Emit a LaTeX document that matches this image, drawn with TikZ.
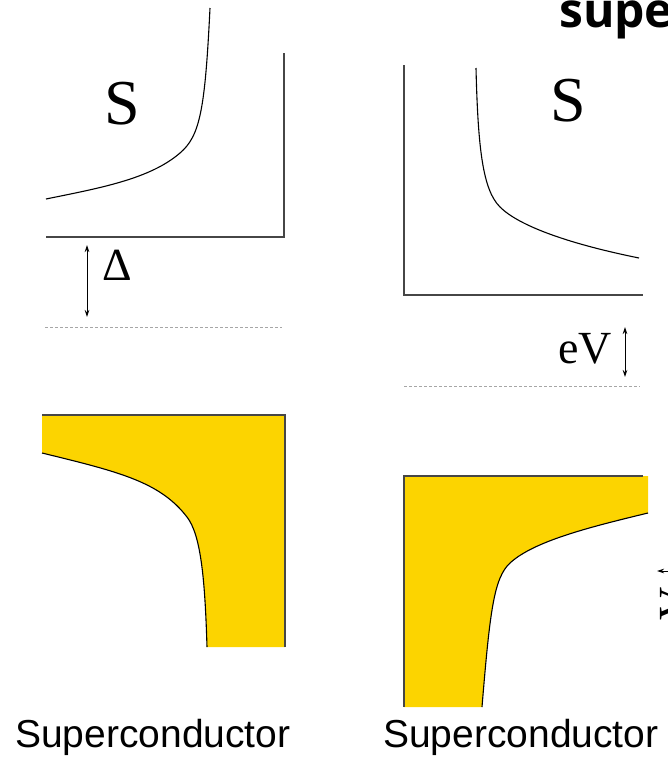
\documentclass[tikz,border=0pt]{standalone}
\usepackage{fontspec}
\setmainfont{Liberation Serif}
\newfontfamily\labelfont{Liberation Sans}
\newfontfamily\titlefont{Open Sans}
\usetikzlibrary{arrows.meta}
\definecolor{scyellow}{RGB}{252,212,0}
\definecolor{axisgray}{RGB}{70,70,70}
\begin{document}
\begin{tikzpicture}[x=1pt,y=-1pt,
  axis/.style={draw=axisgray,line width=1.4pt},
  dos/.style={draw=black,line width=1.1pt},
  gapline/.style={draw=gray!70,line width=0.9pt,dash pattern=on 2.5pt off 2.5pt},
  dim/.style={draw=black,line width=0.8pt,{Stealth[length=7pt,width=4.5pt]}-{Stealth[length=7pt,width=4.5pt]}},
  sym/.style={font=\fontsize{64}{64}\selectfont,inner sep=0pt},
  smallsym/.style={font=\fontsize{46}{46}\selectfont,inner sep=0pt},
  caption/.style={font=\labelfont\fontsize{39}{40}\selectfont,inner sep=0pt},
]
\useasboundingbox (0,0) rectangle (668,758);
\clip (0,0) rectangle (668,758);

% title fragment
\node[font=\titlefont\bfseries\fontsize{48}{48}\selectfont,anchor=base west,inner sep=0pt] (title) at (559,27) {supe};

% ---------- top left: DOS of superconductor ----------
\draw[axis] (46,237) -- (284,237) -- (284,53);
\draw[dos] (46,199) .. controls (100,188) and (150,179) .. (180,153)
                   .. controls (200,136) and (205,110) .. (210,8);
\node[sym,anchor=base] (S1) at (122,124) {S};
\coordinate (d1top) at (87,245);
\coordinate (d1bot) at (87,317);
\draw[dim] (d1top) -- (d1bot);
\node[smallsym,anchor=base west] (Delta) at (102,280) {Δ};
\coordinate (g1l) at (45,327);
\coordinate (g1r) at (282,327);
\draw[gapline] (g1l) -- (g1r);

% ---------- top right ----------
\draw[axis] (404,65) -- (404,295) -- (643,295);
\draw[dos] (476,68) .. controls (478,150) and (483,190) .. (500,207)
                   .. controls (518,225) and (565,243) .. (639,258);
\node[sym,anchor=base] (S2) at (568,121) {S};
\node[smallsym,anchor=base west] (eV) at (558,363) {eV};
\coordinate (d2top) at (625,327);
\coordinate (d2bot) at (625,377);
\draw[dim] (d2top) -- (d2bot);
\coordinate (g2l) at (404,386);
\coordinate (g2r) at (640,386);
\draw[gapline] (g2l) -- (g2r);

% ---------- bottom left: filled states ----------
\fill[scyellow] (42,415) -- (285,415) -- (285,647) -- (207,647)
   .. controls (205,580) and (201,535) .. (187,517)
   .. controls (160,482) and (120,472) .. (42,453) -- cycle;
\draw[dos] (42,453) .. controls (120,472) and (160,482) .. (187,517)
                   .. controls (201,535) and (205,580) .. (207,647);
\draw[axis] (42,415) -- (285,415) -- (285,647);

% ---------- bottom right ----------
\fill[scyellow] (404,476) -- (648,476) -- (648,513)
   .. controls (590,527) and (534,541) .. (510,563)
   .. controls (494,578) and (490,610) .. (482,707) -- (404,707) -- cycle;
\draw[dos] (648,513) .. controls (590,527) and (534,541) .. (510,563)
                    .. controls (494,578) and (490,610) .. (482,707);
\draw[axis] (643,476) -- (404,476) -- (404,707);

% right-edge fragment
\coordinate (f1) at (657,571);
\coordinate (f2) at (690,571);
\draw[line width=0.8pt,-{Stealth[length=7pt,width=4.5pt]}] (f2) -- (f1);
\node[smallsym,rotate=90,anchor=south west] (frag) at (691,641) {eV};

% captions
\node[caption,anchor=base west] (cap1) at (15,747) {Superconductor};
\node[caption,anchor=base west] (cap2) at (383,747) {Superconductor};
\end{tikzpicture}
\end{document}
